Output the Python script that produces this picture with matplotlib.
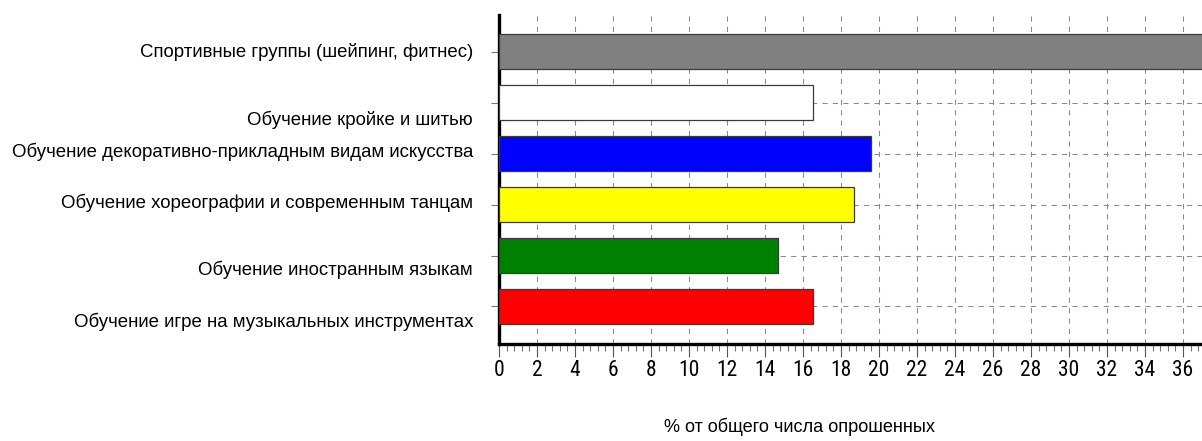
import matplotlib
matplotlib.use("Agg")
import matplotlib.pyplot as plt
import matplotlib.transforms as mtransforms
from matplotlib.ticker import MultipleLocator
from matplotlib import font_manager

categories = [
    "Обучение игре на музыкальных инструментах",
    "Обучение иностранным языкам",
    "Обучение хореографии и современным танцам",
    "Обучение декоративно-прикладным видам искусства",
    "Обучение кройке и шитью",
    "Спортивные группы (шейпинг, фитнес)",
]
values = [16.5, 14.7, 18.7, 19.6, 16.5, 38.5]
colors = ["#ff0000", "#008000", "#ffff00", "#0000ff", "#ffffff", "#808080"]
label_offsets_px = [15, 14, -2, -2, 17, 0]
xlabel = "% от общего числа опрошенных"

fl = font_manager.fontManager.ttflist
names = {f.name for f in fl}
tick_font = {"family": "DejaVu Sans", "stretch": "normal"}
if "Liberation Sans Narrow" in names:
    tick_font = {"family": "Liberation Sans Narrow", "stretch": "normal"}
elif "Roboto Condensed" in names:
    tick_font = {"family": "Roboto Condensed", "stretch": "normal"}
elif any(f.name == "DejaVu Sans" and str(f.stretch) in ("condensed", "semi-condensed", "600", "500")
         or "Condensed" in f.fname and "DejaVuSans" in f.fname for f in fl):
    tick_font = {"family": "DejaVu Sans", "stretch": "condensed"}

DPI = 100
fig = plt.figure(figsize=(12.02, 4.41), dpi=DPI)
ax = fig.add_axes([499 / 1202, 1 - 344 / 441, 703 / 1202, 329 / 441])

ypos = list(range(len(categories)))
ax.barh(ypos, values, height=0.69, color=colors, edgecolor="#3a3a3a",
        linewidth=0.9, zorder=3)

ax.set_xlim(0, 37.0)
ax.set_ylim(-0.736, 5.72)
ax.xaxis.set_major_locator(MultipleLocator(2))
ax.xaxis.set_minor_locator(MultipleLocator(0.4))

ax.grid(True, which="major", axis="both", color="#8a8a8a", linestyle=(0, (5, 5)),
        linewidth=0.75, zorder=0)
ax.set_axisbelow(True)

for s in ("top", "right"):
    ax.spines[s].set_visible(False)
for s in ("left", "bottom"):
    ax.spines[s].set_linewidth(2.4)
    ax.spines[s].set_color("black")

ax.tick_params(axis="x", which="major", length=9, width=0.8, color="#555555",
               labelsize=15.5, pad=2.5)
ax.tick_params(axis="x", which="minor", length=5, width=0.8, color="#777777")
ax.tick_params(axis="y", which="major", length=6, width=0.8, color="#777777",
               labelleft=False)
for lab in ax.get_xticklabels():
    lab.set_fontfamily(tick_font["family"])
    lab.set_fontstretch(tick_font["stretch"])

ax.set_yticks(ypos)
for y, text, off in zip(ypos, categories, label_offsets_px):
    tr = ax.get_yaxis_transform() + mtransforms.ScaledTranslation(
        -26 / DPI, -off / DPI, fig.dpi_scale_trans)
    ax.text(0, y, text, transform=tr, ha="right", va="center",
            fontsize=13.4, family="Liberation Sans", color="black")

fig.text(800 / 1202, 1 - 427 / 441, xlabel, ha="center", va="center",
         fontsize=13.1, family="Liberation Sans")

fig.savefig("out.png", dpi=DPI)
